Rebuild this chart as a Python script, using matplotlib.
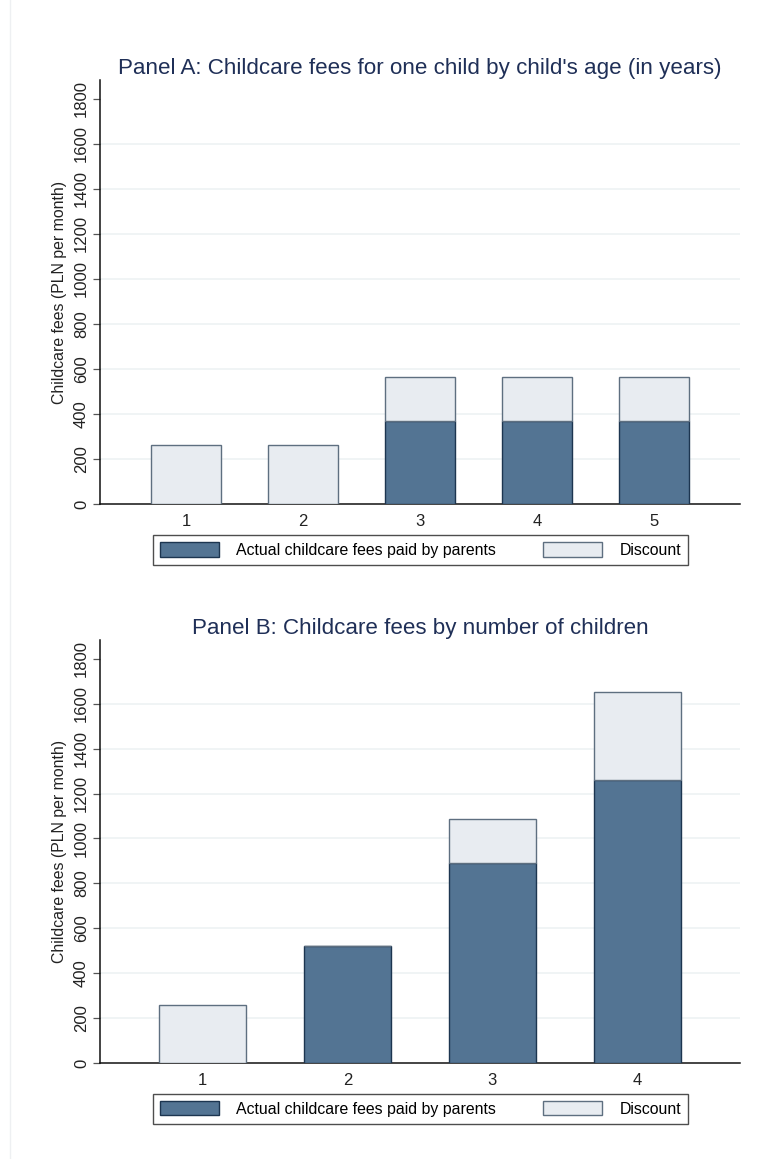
import matplotlib
matplotlib.use("Agg")
import matplotlib.pyplot as plt
from matplotlib.patches import Patch
from matplotlib.lines import Line2D

plt.rcParams['font.family'] = ['Liberation Sans', 'DejaVu Sans']

# Panel A data
ages = [1, 2, 3, 4, 5]
paid_a = [0, 0, 370, 370, 370]
discount_a = [260, 260, 195, 195, 195]

# Panel B data
children = [1, 2, 3, 4]
paid_b = [0, 520, 890, 1260]
discount_b = [260, 0, 198, 392]

yticks = [0, 200, 400, 600, 800, 1000, 1200, 1400, 1600, 1800]

title_a = "Panel A: Childcare fees for one child by child's age (in years)"
title_b = "Panel B: Childcare fees by number of children"
ylabel = "Childcare fees (PLN per month)"
leg_labels = ["Actual childcare fees paid by parents", "Discount"]

DARK = "#537493"
DARK_EDGE = "#1c3550"
LIGHT = "#e8ecf1"
LIGHT_EDGE = "#5e6f80"
TITLE_C = "#1f2f57"
GRID_C = "#edf2f3"

W, H = 760, 1159
fig = plt.figure(figsize=(W / 100, H / 100), dpi=100)
fig.patch.set_facecolor("white")

# faint frame line at left
fig.add_artist(Line2D([10 / W, 10 / W], [0, 1], color="#eef0f2", lw=1.0,
                      transform=fig.transFigure))

TICK_FS = 12
LAB_FS = 11.4


def panel(rect, cats, paid, disc, title, xlim):
    ax = fig.add_axes(rect)
    ax.bar(cats, paid, width=0.6, color=DARK, edgecolor=DARK_EDGE, linewidth=1.0, zorder=3)
    ax.bar(cats, disc, width=0.6, bottom=paid, color=LIGHT, edgecolor=LIGHT_EDGE,
           linewidth=1.0, zorder=3)
    ax.set_xlim(*xlim)
    ax.set_ylim(0, 1884)
    ax.set_yticks(yticks)
    ax.set_yticklabels([str(t) for t in yticks], rotation=90, va="center",
                       fontsize=TICK_FS, color="#222222")
    ax.set_xticks(cats)
    ax.set_xticklabels([str(c) for c in cats], fontsize=TICK_FS, color="#222222")
    ax.tick_params(axis="x", length=0, pad=7)
    ax.tick_params(axis="y", length=5, width=0.9, color="#555555", pad=3)
    for s in ["top", "right"]:
        ax.spines[s].set_visible(False)
    for s in ["left", "bottom"]:
        ax.spines[s].set_linewidth(1.1)
        ax.spines[s].set_color("#111111")
    ax.yaxis.grid(True, color=GRID_C, linewidth=1.2, zorder=0)
    ax.set_axisbelow(True)
    gl = ax.yaxis.get_gridlines()
    gl[0].set_visible(False)
    gl[-1].set_visible(False)
    ax.set_ylabel(ylabel, fontsize=LAB_FS, color="#222222", labelpad=5)
    ax.set_title(title, fontsize=16.1, color=TITLE_C, pad=4)
    handles = [Patch(facecolor=DARK, edgecolor=DARK_EDGE, linewidth=1.0),
               Patch(facecolor=LIGHT, edgecolor=LIGHT_EDGE, linewidth=1.0)]
    leg = ax.legend(handles, leg_labels, ncol=2, loc="lower left",
                    bbox_to_anchor=(0.083, -0.144, 0.836, 0.068), mode="expand",
                    fontsize=LAB_FS, frameon=True, fancybox=False, edgecolor="#222222",
                    handlelength=3.73, handleheight=1.0, handletextpad=1.07,
                    columnspacing=3.0, borderpad=0.45, borderaxespad=0)
    leg.get_frame().set_linewidth(1.0)
    return ax


panel([100 / W, 1 - 504 / H, 640 / W, 424 / H], ages, paid_a, discount_a, title_a,
      (0.265, 5.735))
panel([100 / W, 1 - 1063 / H, 640 / W, 423 / H], children, paid_b, discount_b, title_b,
      (0.29, 4.71))

fig.savefig("out.png", dpi=100, facecolor="white")
